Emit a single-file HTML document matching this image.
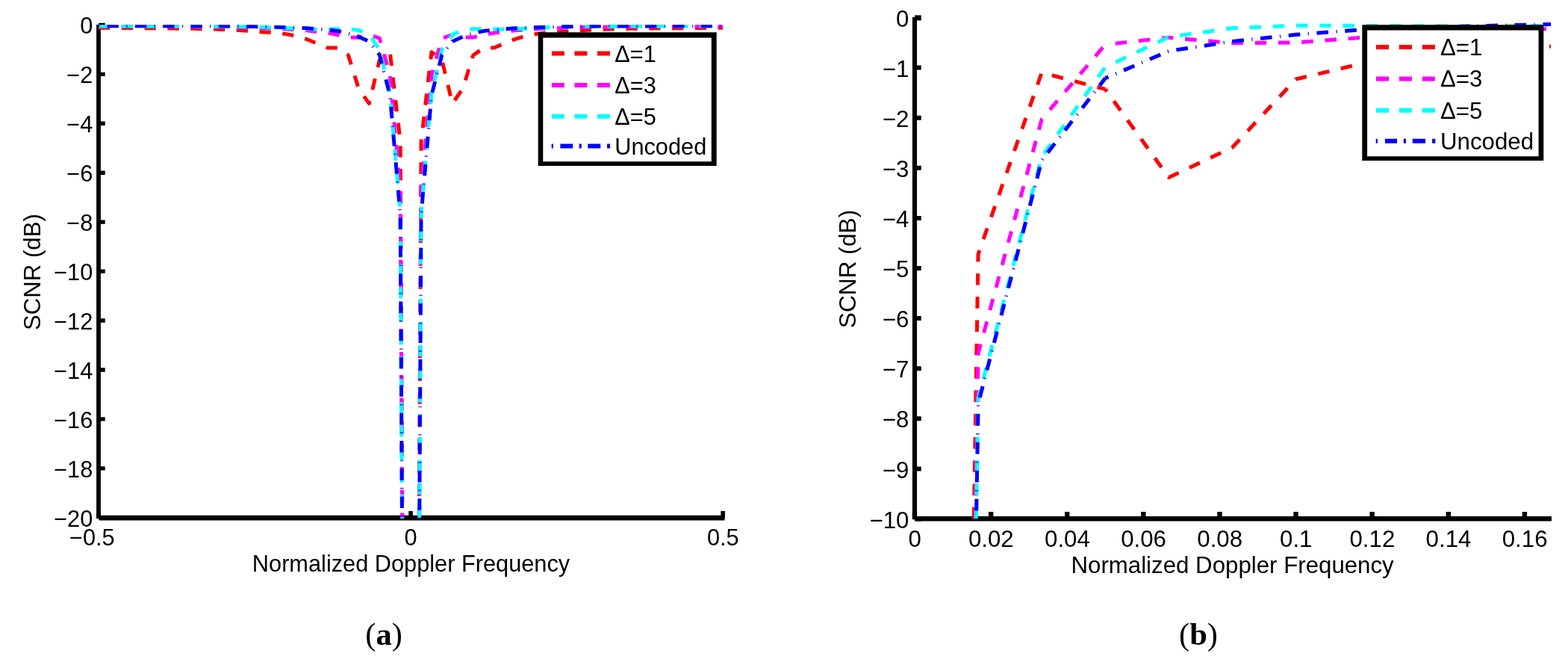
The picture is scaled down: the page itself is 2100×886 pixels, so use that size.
<!DOCTYPE html>
<html lang="en"><head><meta charset="utf-8"><title>SCNR versus Normalized Doppler Frequency</title>
<style>
html,body{margin:0;padding:0;background:#fff;}
body{width:2100px;height:886px;overflow:hidden;}
svg{display:block;}
.t{font-family:"Liberation Sans",Arial,Helvetica,sans-serif;font-size:30.6px;fill:#000;}
.cap{font-family:"Liberation Serif","Times New Roman",serif;font-size:42.5px;fill:#000;}
.ax{stroke:#000;fill:none;}
.c{fill:none;stroke-linejoin:round;stroke-linecap:butt;}
</style></head><body>
<svg width="2100" height="886" viewBox="0 0 2100 886">
<rect x="0" y="0" width="2100" height="886" fill="#fff"/>
<defs>
<clipPath id="cl"><rect x="132" y="33.2" width="837.7" height="660.7"/></clipPath>
<clipPath id="cr"><rect x="1225" y="22" width="852" height="672.9"/></clipPath>
</defs>
<g id="chart-a">
<path class="ax" stroke-width="5.8" d="M132 33V694"/>
<path class="ax" stroke-width="6.8" d="M133 693.1H970.5"/>
<path class="ax" stroke-width="5.4" d="M132 33.4h8.7M132 99.34h8.7M132 165.28h8.7M132 231.22h8.7M132 297.16h8.7M132 363.1h8.7M132 429.04h8.7M132 494.98h8.7M132 560.92h8.7M132 626.86h8.7M132 692.8h8.7"/>
<path class="ax" stroke-width="5.6" d="M132 693.1v-9.2M550.1 693.1v-9.2M968.2 693.1v-9.2"/>
<g clip-path="url(#cl)">
<path class="c" stroke="#ff0000" stroke-width="5" stroke-dasharray="15.3 15.5" stroke-dashoffset="0" d="M132 37.36 L145.94 37.36 L159.87 37.52 L173.81 37.52 L187.75 37.69 L201.68 37.69 L215.62 37.85 L229.56 38.02 L243.49 38.18 L257.43 38.35 L271.37 38.68 L285.3 39 L299.24 39.5 L313.18 40.16 L327.11 40.98 L341.05 41.97 L354.99 42.96 L368.92 43.95 L382.86 45.6 L396.8 48.24 L410.73 52.52 L424.67 58.13 L438.61 64.06 L452.54 64.06 L466.48 73.95 L480.42 118.79 L494.35 138.57 L508.29 80.55 L522.23 69.67 L536.16 189.02 L550.1 2736.94"/>
<path class="c" stroke="#ff0000" stroke-width="5" stroke-dasharray="15.3 15.5" stroke-dashoffset="21.28" d="M550.1 2736.94 L564.04 189.02 L577.97 69.67 L591.91 80.55 L605.85 138.57 L619.78 118.79 L633.72 73.95 L647.66 64.06 L661.59 64.06 L675.53 58.13 L689.47 52.52 L703.4 48.24 L717.34 45.6 L731.28 43.95 L745.21 42.96 L759.15 41.97 L773.09 40.98 L787.02 40.16 L800.96 39.5 L814.9 39 L828.83 38.68 L842.77 38.35 L856.71 38.18 L870.64 38.02 L884.58 37.85 L898.52 37.69 L912.45 37.69 L926.39 37.52 L940.33 37.52 L954.26 37.36 L968.2 37.36"/>
<path class="c" stroke="#ff00ff" stroke-width="5" stroke-dasharray="15.3 15.5" stroke-dashoffset="0" d="M132 35.05 L145.94 35.05 L159.87 35.05 L173.81 35.05 L187.75 35.05 L201.68 35.05 L215.62 35.38 L229.56 35.38 L243.49 35.38 L257.43 35.71 L271.37 35.71 L285.3 36.04 L299.24 36.04 L313.18 36.37 L327.11 36.7 L341.05 37.19 L354.99 37.69 L368.92 38.18 L382.86 38.84 L396.8 39.66 L410.73 40.82 L424.67 42.3 L438.61 43.95 L452.54 46.75 L466.48 49.88 L480.42 50.21 L494.35 46.59 L508.29 51.2 L522.23 100.33 L536.16 254.3 L550.1 2736.94"/>
<path class="c" stroke="#ff00ff" stroke-width="5" stroke-dasharray="15.3 15.5" stroke-dashoffset="19.92" d="M550.1 2736.94 L564.04 254.3 L577.97 100.33 L591.91 51.2 L605.85 46.59 L619.78 50.21 L633.72 49.88 L647.66 46.75 L661.59 43.95 L675.53 42.3 L689.47 40.82 L703.4 39.66 L717.34 38.84 L731.28 38.18 L745.21 37.69 L759.15 37.19 L773.09 36.7 L787.02 36.37 L800.96 36.04 L814.9 36.04 L828.83 35.71 L842.77 35.71 L856.71 35.38 L870.64 35.38 L884.58 35.38 L898.52 35.05 L912.45 35.05 L926.39 35.05 L940.33 35.05 L954.26 35.05 L968.2 35.05"/>
<path class="c" stroke="#00ffff" stroke-width="5" stroke-dasharray="15.3 15.5" stroke-dashoffset="0" d="M132 35.05 L145.94 35.05 L159.87 35.05 L173.81 35.05 L187.75 35.05 L201.68 35.05 L215.62 35.05 L229.56 35.05 L243.49 35.05 L257.43 35.05 L271.37 35.21 L285.3 35.38 L299.24 35.38 L313.18 35.54 L327.11 35.71 L341.05 36.04 L354.99 36.37 L368.92 36.86 L382.86 37.52 L396.8 38.18 L410.73 38.84 L424.67 39.17 L438.61 39 L452.54 38.84 L466.48 38.68 L480.42 40.42 L494.35 46.26 L508.29 66.04 L522.23 125.06 L536.16 283.97 L550.1 2736.94"/>
<path class="c" stroke="#00ffff" stroke-width="5" stroke-dasharray="15.3 15.5" stroke-dashoffset="19.22" d="M550.1 2736.94 L564.04 283.97 L577.97 125.06 L591.91 66.04 L605.85 46.26 L619.78 40.42 L633.72 38.68 L647.66 38.84 L661.59 39 L675.53 39.17 L689.47 38.84 L703.4 38.18 L717.34 37.52 L731.28 36.86 L745.21 36.37 L759.15 36.04 L773.09 35.71 L787.02 35.54 L800.96 35.38 L814.9 35.38 L828.83 35.21 L842.77 35.05 L856.71 35.05 L870.64 35.05 L884.58 35.05 L898.52 35.05 L912.45 35.05 L926.39 35.05 L940.33 35.05 L954.26 35.05 L968.2 35.05"/>
<path class="c" stroke="#0000ff" stroke-width="5" stroke-dasharray="15.4 21.9" stroke-dashoffset="25.8" d="M132 34.72 L145.94 34.72 L159.87 34.72 L173.81 34.72 L187.75 34.72 L201.68 34.72 L215.62 34.72 L229.56 34.88 L243.49 34.88 L257.43 34.88 L271.37 35.05 L285.3 35.05 L299.24 35.05 L313.18 35.21 L327.11 35.38 L341.05 35.54 L354.99 35.87 L368.92 36.2 L382.86 36.7 L396.8 37.19 L410.73 37.85 L424.67 38.84 L438.61 39.99 L452.54 41.51 L466.48 44.68 L480.42 49.16 L494.35 55.49 L508.29 73.29 L522.23 127.36 L536.16 287.27 L550.1 2736.94"/>
<path class="c" stroke="#0000ff" stroke-opacity="0.75" stroke-width="4.5" stroke-dasharray="1.6 35.7" stroke-dashoffset="0.25" d="M132 34.72 L145.94 34.72 L159.87 34.72 L173.81 34.72 L187.75 34.72 L201.68 34.72 L215.62 34.72 L229.56 34.88 L243.49 34.88 L257.43 34.88 L271.37 35.05 L285.3 35.05 L299.24 35.05 L313.18 35.21 L327.11 35.38 L341.05 35.54 L354.99 35.87 L368.92 36.2 L382.86 36.7 L396.8 37.19 L410.73 37.85 L424.67 38.84 L438.61 39.99 L452.54 41.51 L466.48 44.68 L480.42 49.16 L494.35 55.49 L508.29 73.29 L522.23 127.36 L536.16 287.27 L550.1 2736.94"/>
<path class="c" stroke="#0000ff" stroke-width="5" stroke-dasharray="15.4 21.9" stroke-dashoffset="34.54" d="M550.1 2736.94 L564.04 287.27 L577.97 127.36 L591.91 73.29 L605.85 55.49 L619.78 49.16 L633.72 44.68 L647.66 41.51 L661.59 39.99 L675.53 38.84 L689.47 37.85 L703.4 37.19 L717.34 36.7 L731.28 36.2 L745.21 35.87 L759.15 35.54 L773.09 35.38 L787.02 35.21 L800.96 35.05 L814.9 35.05 L828.83 35.05 L842.77 34.88 L856.71 34.88 L870.64 34.88 L884.58 34.72 L898.52 34.72 L912.45 34.72 L926.39 34.72 L940.33 34.72 L954.26 34.72 L968.2 34.72"/>
<path class="c" stroke="#0000ff" stroke-opacity="0.75" stroke-width="4.5" stroke-dasharray="1.6 35.7" stroke-dashoffset="8.99" d="M550.1 2736.94 L564.04 287.27 L577.97 127.36 L591.91 73.29 L605.85 55.49 L619.78 49.16 L633.72 44.68 L647.66 41.51 L661.59 39.99 L675.53 38.84 L689.47 37.85 L703.4 37.19 L717.34 36.7 L731.28 36.2 L745.21 35.87 L759.15 35.54 L773.09 35.38 L787.02 35.21 L800.96 35.05 L814.9 35.05 L828.83 35.05 L842.77 34.88 L856.71 34.88 L870.64 34.88 L884.58 34.72 L898.52 34.72 L912.45 34.72 L926.39 34.72 L940.33 34.72 L954.26 34.72 L968.2 34.72"/>
</g>
<text class="t" transform="translate(124.3 45.3) scale(1.005 1)" text-anchor="end">0</text>
<text class="t" transform="translate(124.3 111.24) scale(1.005 1)" text-anchor="end">−2</text>
<text class="t" transform="translate(124.3 177.18) scale(1.005 1)" text-anchor="end">−4</text>
<text class="t" transform="translate(124.3 243.12) scale(1.005 1)" text-anchor="end">−6</text>
<text class="t" transform="translate(124.3 309.06) scale(1.005 1)" text-anchor="end">−8</text>
<text class="t" transform="translate(124.3 375) scale(1.005 1)" text-anchor="end">−10</text>
<text class="t" transform="translate(124.3 440.94) scale(1.005 1)" text-anchor="end">−12</text>
<text class="t" transform="translate(124.3 506.88) scale(1.005 1)" text-anchor="end">−14</text>
<text class="t" transform="translate(124.3 572.82) scale(1.005 1)" text-anchor="end">−16</text>
<text class="t" transform="translate(124.3 638.76) scale(1.005 1)" text-anchor="end">−18</text>
<text class="t" transform="translate(124.3 704.7) scale(1.005 1)" text-anchor="end">−20</text>
<text class="t" transform="translate(123.3 729.5) scale(1.005 1)" text-anchor="middle">−0.5</text>
<text class="t" transform="translate(550.1 729.6) scale(1.005 1)" text-anchor="middle">0</text>
<text class="t" transform="translate(968.3 729.6) scale(1.005 1)" text-anchor="middle">0.5</text>
<text class="t" transform="translate(550.5 764.5) scale(1.005 1)" text-anchor="middle">Normalized Doppler Frequency</text>
<text class="t" transform="translate(54.3 364.1) rotate(-90) scale(1.02 1.02)" text-anchor="middle">SCNR (dB)</text>
<path fill="#fff" d="M724 46.8H956.4V218.8H724Z"/>
<path fill="#000" fill-rule="evenodd" d="M720.7 43.3H959.7V222H720.7ZM727.3 50.4V216.3H952.8V50.4Z"/>
<path class="c" stroke="#ff0000" stroke-width="6" stroke-dasharray="17 13.5" d="M738.9 71.5H817.1"/>
<text class="t" transform="translate(823.2 83.3) scale(1.005 1)" text-anchor="start">Δ=1</text>
<path class="c" stroke="#ff00ff" stroke-width="6" stroke-dasharray="17 13.5" d="M738.9 113.9H817.1"/>
<text class="t" transform="translate(823.2 124.9) scale(1.005 1)" text-anchor="start">Δ=3</text>
<path class="c" stroke="#00ffff" stroke-width="6" stroke-dasharray="17 13.5" d="M738.9 155.8H817.1"/>
<text class="t" transform="translate(823.2 166.7) scale(1.005 1)" text-anchor="start">Δ=5</text>
<path class="c" stroke="#0000ff" stroke-width="6" stroke-dasharray="2.2 9.5 16.8 8.4 3.3 8.4 17 8.7 3 0" d="M738.7 195.5H817.1"/>
<text class="t" transform="translate(823.2 207.3) scale(1.005 1)" text-anchor="start">Uncoded</text>
<text class="cap" x="514" y="863" text-anchor="middle">(<tspan font-weight="bold">a</tspan>)</text>
</g>
<g id="chart-b">
<path class="ax" stroke-width="6.1" d="M1225 22.9V695.3"/>
<path class="ax" stroke-width="6.6" d="M1226 694.3H2078"/>
<path class="ax" stroke-width="6" d="M1225 90.52h8.7M1225 157.64h8.7M1225 224.76h8.7M1225 291.88h8.7M1225 359h8.7M1225 426.12h8.7M1225 493.24h8.7M1225 560.36h8.7M1225 627.48h8.7M1225 694.6h8.7"/>
<path class="ax" stroke-width="7" d="M1225 23.9h8.7"/>
<path class="ax" stroke-width="6.4" d="M1225 694.3v-9.3M1327.11 694.3v-9.3M1429.22 694.3v-9.3M1531.34 694.3v-9.3M1633.45 694.3v-9.3M1735.56 694.3v-9.3M1837.68 694.3v-9.3M1939.79 694.3v-9.3M2041.9 694.3v-9.3"/>
<g clip-path="url(#cr)">
<path class="c" stroke="#ff0000" stroke-width="5.08" stroke-dasharray="15.54 15.75" stroke-dashoffset="16.44" d="M1225 5527.24 L1310.09 340.21 L1395.19 97.23 L1480.28 119.38"/>
<path class="c" stroke="#ff0000" stroke-width="5.08" stroke-dasharray="15.54 15.75" stroke-dashoffset="11.72" d="M1480.28 119.38 L1565.38 237.51 L1650.47 197.24 L1735.56 105.96 L1820.66 85.82 L1905.75 85.82 L1990.84 73.74 L2075.94 62.33 L2161.03 53.6 L2246.12 48.23"/>
<path class="c" stroke="#ff00ff" stroke-width="5.08" stroke-dasharray="15.54 15.75" stroke-dashoffset="16.65" d="M1225 5527.24 L1310.09 473.1 L1395.19 159.65 L1480.28 59.64"/>
<path class="c" stroke="#ff00ff" stroke-width="5.08" stroke-dasharray="15.54 15.75" stroke-dashoffset="17.78" d="M1480.28 59.64 L1565.38 50.25 L1650.47 57.63 L1735.56 56.96 L1820.66 50.58 L1905.75 44.88 L1990.84 41.52 L2075.94 38.5 L2161.03 36.15 L2246.12 34.47"/>
<path class="c" stroke="#00ffff" stroke-width="5.08" stroke-dasharray="15.54 15.75" stroke-dashoffset="16.03" d="M1225 5527.24 L1310.09 533.51 L1395.19 209.99 L1480.28 89.85"/>
<path class="c" stroke="#00ffff" stroke-width="5.08" stroke-dasharray="15.54 15.75" stroke-dashoffset="16" d="M1480.28 89.85 L1565.38 49.58 L1650.47 37.7 L1735.56 34.14 L1820.66 34.47 L1905.75 34.81 L1990.84 35.15 L2075.94 34.47 L2161.03 33.13 L2246.12 31.79"/>
<path class="c" stroke="#0000ff" stroke-width="5.08" stroke-dasharray="15.65 22.25" stroke-dashoffset="6.71" d="M1225 5527.24 L1310.09 540.22 L1395.19 214.69 L1480.28 104.62"/>
<path class="c" stroke="#0000ff" stroke-opacity="0.75" stroke-width="4.57" stroke-dasharray="1.63 36.27" stroke-dashoffset="18.65" d="M1225 5527.24 L1310.09 540.22 L1395.19 214.69 L1480.28 104.62"/>
<path class="c" stroke="#0000ff" stroke-width="5.08" stroke-dasharray="15.65 22.25" stroke-dashoffset="11.08" d="M1480.28 104.62 L1565.38 68.37 L1650.47 55.48 L1735.56 46.36 L1820.66 39.91 L1905.75 36.82 L1990.84 34.47 L2075.94 32.46 L2161.03 31.12 L2246.12 30.11"/>
<path class="c" stroke="#0000ff" stroke-opacity="0.75" stroke-width="4.57" stroke-dasharray="1.63 36.27" stroke-dashoffset="23.02" d="M1480.28 104.62 L1565.38 68.37 L1650.47 55.48 L1735.56 46.36 L1820.66 39.91 L1905.75 36.82 L1990.84 34.47 L2075.94 32.46 L2161.03 31.12 L2246.12 30.11"/>
</g>
<text class="t" transform="translate(1217.4 35.5) scale(1.0211 1.016)" text-anchor="end">0</text>
<text class="t" transform="translate(1217.4 102.62) scale(1.0211 1.016)" text-anchor="end">−1</text>
<text class="t" transform="translate(1217.4 169.74) scale(1.0211 1.016)" text-anchor="end">−2</text>
<text class="t" transform="translate(1217.4 236.86) scale(1.0211 1.016)" text-anchor="end">−3</text>
<text class="t" transform="translate(1217.4 303.98) scale(1.0211 1.016)" text-anchor="end">−4</text>
<text class="t" transform="translate(1217.4 371.1) scale(1.0211 1.016)" text-anchor="end">−5</text>
<text class="t" transform="translate(1217.4 438.22) scale(1.0211 1.016)" text-anchor="end">−6</text>
<text class="t" transform="translate(1217.4 505.34) scale(1.0211 1.016)" text-anchor="end">−7</text>
<text class="t" transform="translate(1217.4 572.46) scale(1.0211 1.016)" text-anchor="end">−8</text>
<text class="t" transform="translate(1217.4 639.58) scale(1.0211 1.016)" text-anchor="end">−9</text>
<text class="t" transform="translate(1217.4 706.7) scale(1.0211 1.016)" text-anchor="end">−10</text>
<text class="t" transform="translate(1225.2 732) scale(1.0211 1.016)" text-anchor="middle">0</text>
<text class="t" transform="translate(1327.31 732) scale(1.0211 1.016)" text-anchor="middle">0.02</text>
<text class="t" transform="translate(1429.42 732) scale(1.0211 1.016)" text-anchor="middle">0.04</text>
<text class="t" transform="translate(1531.54 732) scale(1.0211 1.016)" text-anchor="middle">0.06</text>
<text class="t" transform="translate(1633.65 732) scale(1.0211 1.016)" text-anchor="middle">0.08</text>
<text class="t" transform="translate(1735.76 732) scale(1.0211 1.016)" text-anchor="middle">0.1</text>
<text class="t" transform="translate(1837.88 732) scale(1.0211 1.016)" text-anchor="middle">0.12</text>
<text class="t" transform="translate(1939.99 732) scale(1.0211 1.016)" text-anchor="middle">0.14</text>
<text class="t" transform="translate(2042.1 732) scale(1.0211 1.016)" text-anchor="middle">0.16</text>
<text class="t" transform="translate(1650.6 766.8) scale(1.0211 1.016)" text-anchor="middle">Normalized Doppler Frequency</text>
<text class="t" transform="translate(1146.2 360) rotate(-90) scale(1.0363 1.0363)" text-anchor="middle">SCNR (dB)</text>
<path fill="#fff" d="M1827.6 36.7H2064V211.9H1827.6Z"/>
<path fill="#000" fill-rule="evenodd" d="M1824.3 33.3H2067.3V215.1H1824.3ZM1831.1 40.4V209.3H2060.6V40.4Z"/>
<path class="c" stroke="#ff0000" stroke-width="6" stroke-dasharray="17.2 13.7" d="M1842.9 62.9H1922.3"/>
<text class="t" transform="translate(1929 74) scale(1.0211 1.016)" text-anchor="start">Δ=1</text>
<path class="c" stroke="#ff00ff" stroke-width="6" stroke-dasharray="17.2 13.7" d="M1842.9 105.5H1922.3"/>
<text class="t" transform="translate(1929 116.3) scale(1.0211 1.016)" text-anchor="start">Δ=3</text>
<path class="c" stroke="#00ffff" stroke-width="6" stroke-dasharray="17.2 13.7" d="M1842.9 147.8H1922.3"/>
<text class="t" transform="translate(1929 159.3) scale(1.0211 1.016)" text-anchor="start">Δ=5</text>
<path class="c" stroke="#0000ff" stroke-width="6" stroke-dasharray="2.2 10 16.2 8.7 3.2 8.8 17.3 9 3 0" d="M1842.7 188.8H1922.3"/>
<text class="t" transform="translate(1929 200.3) scale(1.0211 1.016)" text-anchor="start">Uncoded</text>
<text class="cap" x="1605" y="863" text-anchor="middle">(<tspan font-weight="bold">b</tspan>)</text>
</g>
</svg>
</body></html>
